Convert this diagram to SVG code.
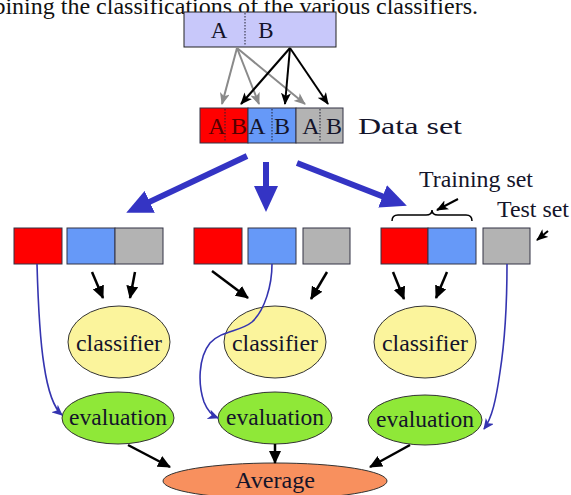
<svg xmlns="http://www.w3.org/2000/svg" width="571" height="495" viewBox="0 0 571 495">
<style>
text{font-family:'Liberation Serif','DejaVu Serif',serif;fill:#14142a}
.bx{stroke:#333344;stroke-width:1}
.red{fill:#ff0000}.blu{fill:#6699f8}.gry{fill:#b3b3b3}
.cls{fill:#fbf49c;stroke:#333;stroke-width:1}
.evl{fill:#8fe838;stroke:#333;stroke-width:1}
.avg{fill:#f8905e;stroke:#333;stroke-width:1}
.div{stroke:#223;stroke-width:1;stroke-dasharray:1.5,1.5}
.ga{stroke:#8a8a8a;stroke-width:2;fill:none;marker-end:url(#mg)}
.ka{stroke:#000;stroke-width:2;fill:none;marker-end:url(#mk)}
.kb{stroke:#000;stroke-width:2.5;fill:none;marker-end:url(#mb)}
.big{stroke:#3434c4;stroke-width:6;fill:none;marker-end:url(#mbig)}
.thin{stroke:#3434b0;stroke-width:1.6;fill:none;marker-end:url(#mt)}
</style>
<defs>
<marker id="mg" markerUnits="userSpaceOnUse" markerWidth="12" markerHeight="10" refX="11" refY="5" orient="auto"><path d="M0,0 L12,5 L0,10 L3,5 z" fill="#8a8a8a"/></marker>
<marker id="mk" markerUnits="userSpaceOnUse" markerWidth="12" markerHeight="10" refX="11" refY="5" orient="auto"><path d="M0,0 L12,5 L0,10 L3,5 z" fill="#000"/></marker>
<marker id="mb" markerUnits="userSpaceOnUse" markerWidth="13" markerHeight="12" refX="12" refY="6" orient="auto"><path d="M0,0 L13,6 L0,12 z" fill="#000"/></marker>
<marker id="mbig" markerUnits="userSpaceOnUse" markerWidth="26" markerHeight="24" refX="12" refY="12" orient="auto"><path d="M0,0 L26,12 L0,24 z" fill="#3434c4"/></marker>
<marker id="mt" markerUnits="userSpaceOnUse" markerWidth="11" markerHeight="10" refX="10" refY="5" orient="auto"><path d="M0,0 L11,5 L0,10 L3,5 z" fill="#3434b0"/></marker>
</defs>
<rect width="571" height="495" fill="#ffffff"/>
<g font-family="Liberation Serif, DejaVu Serif, serif">
<text x="478" y="14" font-size="24" text-anchor="end" style="fill:#111">mbining the classifications of the various classifiers.</text>

<g id="source">
<rect x="184" y="12" width="152" height="35" fill="#c8c8fa" stroke="#222" stroke-width="1"/>
<line class="div" x1="245" y1="13" x2="245" y2="46"/>
<text x="219" y="38" font-size="23" text-anchor="middle">A</text>
<text x="266" y="38" font-size="23" text-anchor="middle">B</text>
</g>

<g id="dataset">
<rect class="bx red" x="200" y="108" width="48" height="35"/>
<rect class="bx blu" x="248" y="108" width="48" height="35"/>
<rect class="bx gry" x="296" y="108" width="47" height="35"/>
<line class="div" x1="225" y1="109" x2="225" y2="142"/>
<line class="div" x1="272" y1="109" x2="272" y2="142"/>
<line class="div" x1="320" y1="109" x2="320" y2="142"/>
<text x="217" y="134" font-size="24" text-anchor="middle" style="fill:#500">A</text>
<text x="239" y="134" font-size="24" text-anchor="middle" style="fill:#500">B</text>
<text x="257" y="134" font-size="24" text-anchor="middle">A</text>
<text x="282" y="134" font-size="24" text-anchor="middle">B</text>
<text x="311" y="134" font-size="24" text-anchor="middle">A</text>
<text x="334" y="134" font-size="24" text-anchor="middle">B</text>
<text x="358" y="134" font-size="23" textLength="104" lengthAdjust="spacingAndGlyphs">Data set</text>
</g>

<g id="split1">
<rect class="bx red" x="14" y="228" width="48" height="36"/>
<rect class="bx blu" x="67" y="228" width="48" height="36"/>
<rect class="bx gry" x="115" y="228" width="48" height="36"/>
</g>
<g id="split2">
<rect class="bx red" x="194" y="228" width="48" height="36"/>
<rect class="bx blu" x="248" y="228" width="48" height="36"/>
<rect class="bx gry" x="303" y="228" width="47" height="36"/>
</g>
<g id="split3">
<rect class="bx red" x="381" y="228" width="47" height="36"/>
<rect class="bx blu" x="428" y="228" width="48" height="36"/>
<rect class="bx gry" x="483" y="228" width="47" height="36"/>
<path d="M392,221 Q392,215 398,215 L426,215 Q432,215 432,210 Q432,215 438,215 L466,215 Q472,215 472,221" fill="none" stroke="#000" stroke-width="1.5"/>
<text x="419" y="187" font-size="23" textLength="114" lengthAdjust="spacingAndGlyphs">Training set</text>
<text x="497" y="217" font-size="23" textLength="72" lengthAdjust="spacingAndGlyphs">Test set</text>
</g>

<g id="classifier1"><ellipse class="cls" cx="119" cy="342" rx="51" ry="36"/><text x="119" y="351" font-size="23" text-anchor="middle" textLength="86" lengthAdjust="spacingAndGlyphs">classifier</text></g>
<g id="classifier2"><ellipse class="cls" cx="275" cy="342" rx="51" ry="36"/><text x="275" y="351" font-size="23" text-anchor="middle" textLength="86" lengthAdjust="spacingAndGlyphs">classifier</text></g>
<g id="classifier3"><ellipse class="cls" cx="425" cy="342" rx="51" ry="36"/><text x="425" y="351" font-size="23" text-anchor="middle" textLength="86" lengthAdjust="spacingAndGlyphs">classifier</text></g>

<g id="evaluation1"><ellipse class="evl" cx="118" cy="418" rx="56" ry="26"/><text x="118" y="425" font-size="23" text-anchor="middle" textLength="98" lengthAdjust="spacingAndGlyphs">evaluation</text></g>
<g id="evaluation2"><ellipse class="evl" cx="275" cy="418" rx="57" ry="26"/><text x="275" y="425" font-size="23" text-anchor="middle" textLength="98" lengthAdjust="spacingAndGlyphs">evaluation</text></g>
<g id="evaluation3"><ellipse class="evl" cx="425" cy="420" rx="57" ry="25"/><text x="425" y="427" font-size="23" text-anchor="middle" textLength="98" lengthAdjust="spacingAndGlyphs">evaluation</text></g>

<g id="average"><ellipse class="avg" cx="275" cy="481" rx="112" ry="18"/><text x="275" y="488" font-size="24" text-anchor="middle" textLength="80" lengthAdjust="spacingAndGlyphs">Average</text></g>
</g>

<g id="connectors">
<line class="ga" x1="237" y1="48" x2="222" y2="104"/>
<line class="ga" x1="237" y1="48" x2="259" y2="104"/>
<line class="ga" x1="237" y1="48" x2="305" y2="104"/>
<line class="ka" x1="290" y1="48" x2="241" y2="104"/>
<line class="ka" x1="290" y1="48" x2="285" y2="104"/>
<line class="ka" x1="290" y1="48" x2="328" y2="104"/>

<line class="big" x1="247" y1="156" x2="138.9" y2="206.9"/>
<line class="big" x1="266" y1="162" x2="266" y2="198"/>
<line class="big" x1="297" y1="163" x2="393.8" y2="200.7"/>

<line class="ka" x1="458" y1="199" x2="437" y2="210"/>
<line class="ka" x1="548" y1="231" x2="537" y2="240"/>

<line class="kb" x1="92" y1="272" x2="103" y2="298"/>
<line class="kb" x1="135" y1="272" x2="130" y2="298"/>
<line class="kb" x1="212" y1="271" x2="248" y2="298"/>
<line class="kb" x1="327" y1="272" x2="311" y2="299"/>
<line class="kb" x1="393" y1="272" x2="404" y2="299"/>
<line class="kb" x1="447" y1="272" x2="436" y2="298"/>

<path class="thin" d="M37,264 C38,300 40,340 44,365 C48,392 54,408 62,415"/>
<path class="thin" d="M272,264 C272,285 265,310 252,322 C240,332 222,330 210,343 C198,358 198,385 204,402 C208,412 213,416 218,418"/>
<path class="thin" d="M507,264 C507,300 505,340 500,372 C496,400 492,418 484,429"/>

<line class="kb" x1="128" y1="445" x2="170" y2="467"/>
<line class="kb" x1="275" y1="444" x2="275" y2="463"/>
<line class="kb" x1="410" y1="445" x2="370" y2="467"/>
</g>
</svg>
